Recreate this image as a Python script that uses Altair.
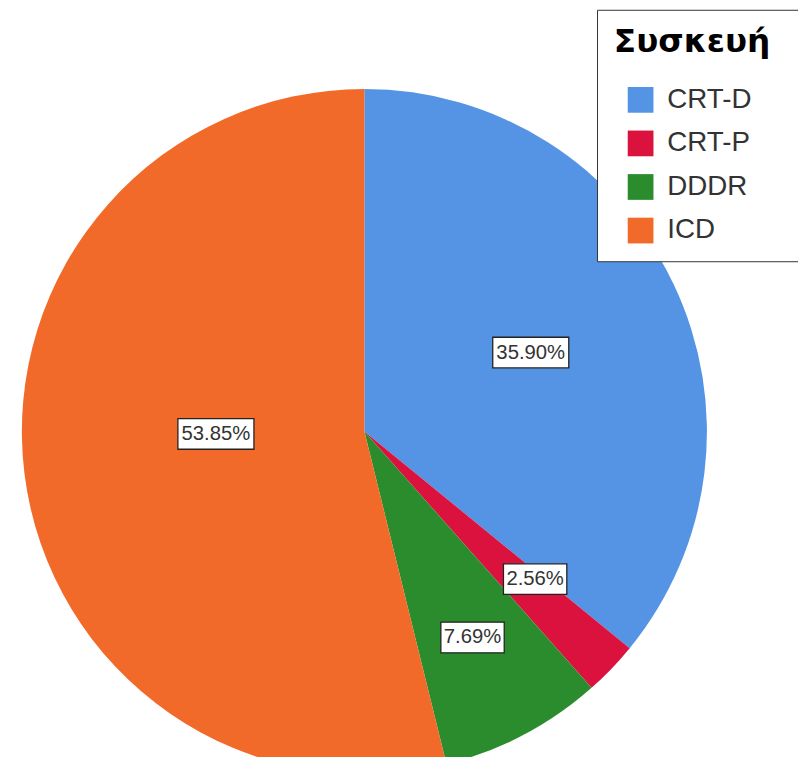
import altair as alt
import pandas as pd

devices = ["CRT-D", "CRT-P", "DDDR", "ICD"]
percents = [35.90, 2.56, 7.69, 53.85]
labels = ["35.90%", "2.56%", "7.69%", "53.85%"]
colors = ["#5594E4", "#DC123E", "#2B8C2E", "#F26A2A"]

df = pd.DataFrame({"device": devices, "pct": percents, "label": labels, "idx": list(range(len(devices)))})

CX, CY, R = 360, 424, 346
# label placement: (radius in px, angle shift in degrees)
label_pos = {"CRT-D": (186, 0), "CRT-P": (228, -3), "DDDR": (235, 0), "ICD": (150, 6)}
r_expr = " : ".join(f"datum.device == '{k}' ? {v[0]}" for k, v in label_pos.items()) + " : 180"
a_expr = " : ".join(f"datum.device == '{k}' ? {v[1]}" for k, v in label_pos.items()) + " : 0"

base = alt.Chart(df)

pie = base.mark_arc(radius=R).encode(
    theta=alt.Theta("pct:Q", stack=True),
    order=alt.Order("idx:Q"),
    color=alt.Color(
        "device:N",
        scale=alt.Scale(domain=devices, range=colors),
        legend=alt.Legend(
            title="Συσκευή\u2800",
            orient="none",
            legendX=595,
            legendY=-2,
            padding=17,
            strokeColor="#333333",
            fillColor="white",
            titleFontSize=33,
            titleFont="DejaVu Sans",
            titleFontWeight="bold",
            titleColor="black",
            titleLimit=400,
            titlePadding=27,
            labelFontSize=28,
            labelFont="Liberation Sans",
            labelColor="#333333",
            labelOffset=13,
            symbolType="square",
            symbolSize=676,
            symbolStrokeWidth=0,
            symbolOpacity=1,
            symbolOffset=13,
            rowPadding=16,
        ),
    ),
    x=alt.value(CX),
    y=alt.value(CY),
)

lab = (
    base.transform_joinaggregate(total="sum(pct)")
    .transform_window(cum="sum(pct)", sort=[alt.SortField("idx")], frame=[None, 0])
    .transform_calculate(
        mid=f"(datum.cum - datum.pct/2)/datum.total*2*PI + ({a_expr})*PI/180",
        r=r_expr,
    )
    .transform_calculate(
        px=f"{CX} + datum.r*sin(datum.mid)",
        py=f"{CY} - datum.r*cos(datum.mid)",
        hw="length(datum.label)*6.4",
    )
    .transform_calculate(
        x1="datum.px - datum.hw",
        x2="datum.px + datum.hw",
        y1="datum.py - 15.5",
        y2="datum.py + 15.5",
    )
)

boxes = lab.mark_rect(fill="white", stroke="#222222", strokeWidth=1.3).encode(
    x=alt.X("x1:Q", scale=None, axis=None),
    x2="x2:Q",
    y=alt.Y("y1:Q", scale=None, axis=None),
    y2="y2:Q",
)

texts = lab.mark_text(fontSize=20.5, font="Liberation Sans", color="#333333").encode(
    x=alt.X("px:Q", scale=None, axis=None),
    y=alt.Y("py:Q", scale=None, axis=None),
    text="label:N",
)

chart = (
    alt.layer(pie, boxes, texts)
    .properties(width=798, height=749, padding=0, autosize="none", background="white")
    .configure_view(stroke=None)
)

chart.save("out.html", embed_options={"renderer": "svg", "actions": False})
